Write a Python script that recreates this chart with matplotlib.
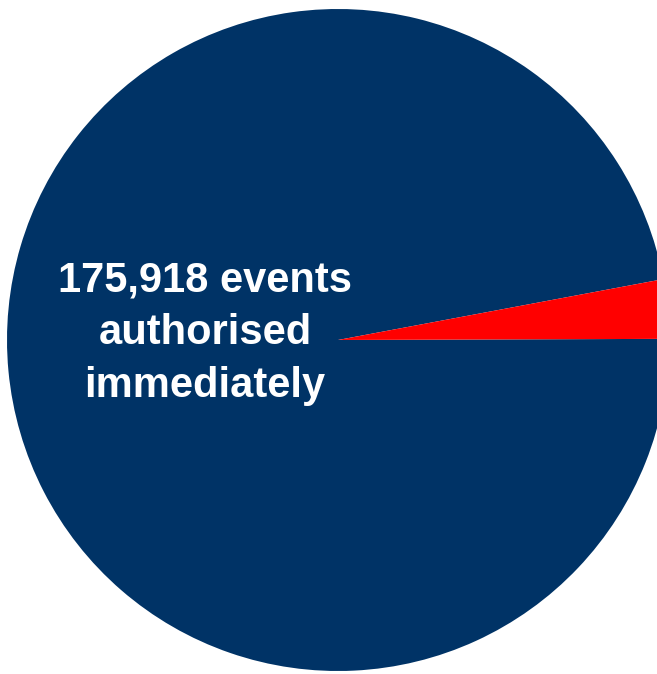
import matplotlib
matplotlib.use("Agg")
from matplotlib import pyplot as plt

# event counts: authorised immediately vs. the rest
labels = ["authorised immediately", "other"]
counts = [175918, 5233]
colors = ["#003366", "#ff0000"]

W, H = 657, 674
fig = plt.figure(figsize=(W / 100, H / 100), dpi=100)

# pie centre and radius in pixels (pie runs off the right edge)
cx, cy, r = 338, 340, 331
ax = fig.add_axes([(cx - r) / W, (H - cy - r) / H, 2 * r / W, 2 * r / H])

# red wedge sits just above the 3 o'clock line
red_deg = 360 * counts[1] / sum(counts)
ax.pie(counts, colors=colors, startangle=0.2 + red_deg, counterclock=True,
       radius=1, wedgeprops=dict(linewidth=0))
ax.set_xlim(-1, 1)
ax.set_ylim(-1, 1)

ax.text(-0.402, 0.02, "175,918 events\nauthorised\nimmediately",
        color="white", fontsize=30, fontweight="bold",
        family=["Liberation Sans", "DejaVu Sans"],
        ha="center", va="center", linespacing=1.42)

fig.savefig("out.png", dpi=100)
